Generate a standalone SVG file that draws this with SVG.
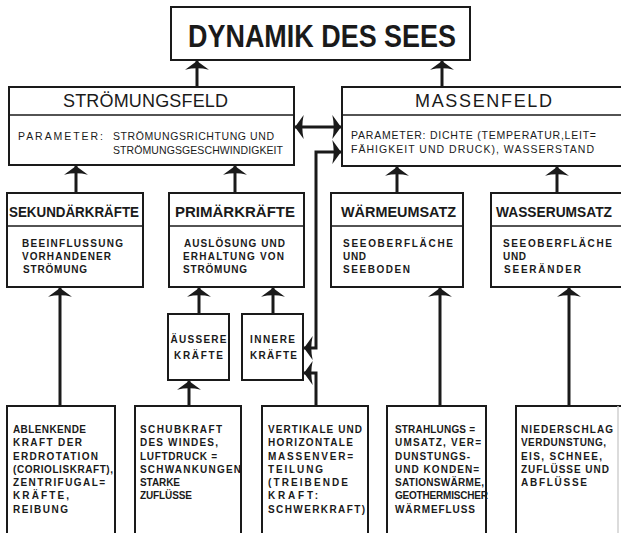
<svg xmlns="http://www.w3.org/2000/svg" width="621" height="533" viewBox="0 0 621 533">
<style>
  .box{fill:#fff;stroke:#1a1a1a;stroke-width:2}
  .div{stroke:#1a1a1a;stroke-width:1.5}
  .con{fill:none;stroke:#1a1a1a;stroke-width:3}
  text{font-family:"Liberation Sans","DejaVu Sans",Arial,sans-serif;fill:#1a1a1a}
  .h0{font-size:31px;font-weight:bold}
  .h1{font-size:18px}
  .h2{font-size:15px;font-weight:bold}
  .p{font-size:10.5px}
  .b{font-size:10px;font-weight:bold}
</style>
<defs>
  <marker id="ah" markerUnits="userSpaceOnUse" markerWidth="20" markerHeight="26" viewBox="-9 -12 10 24" refX="0" refY="0" orient="auto">
    <path d="M0,0 L-8,-11 Q-5.5,0 -8,11 Z" fill="#1a1a1a"/>
  </marker>
  <marker id="ahs" markerUnits="userSpaceOnUse" markerWidth="20" markerHeight="26" viewBox="-9 -12 10 24" refX="0" refY="0" orient="auto-start-reverse">
    <path d="M0,0 L-8,-11 Q-5.5,0 -8,11 Z" fill="#1a1a1a"/>
  </marker>
</defs>
<rect width="621" height="533" fill="#fff"/>

<g id="connectors">
  <line class="con" x1="197" y1="87" x2="197" y2="61" marker-end="url(#ah)"/>
  <line class="con" x1="442" y1="87" x2="442" y2="61" marker-end="url(#ah)"/>
  <line class="con" x1="76" y1="193" x2="76" y2="166" marker-end="url(#ah)"/>
  <line class="con" x1="235" y1="193" x2="235" y2="166" marker-end="url(#ah)"/>
  <line class="con" x1="397" y1="193" x2="397" y2="167" marker-end="url(#ah)"/>
  <line class="con" x1="557" y1="193" x2="557" y2="167" marker-end="url(#ah)"/>
  <line class="con" x1="295" y1="127" x2="341" y2="127" marker-start="url(#ahs)" marker-end="url(#ah)"/>
  <path class="con" d="M304,348 H316 V152 H341" marker-start="url(#ahs)" marker-end="url(#ah)"/>
  <path class="con" d="M316,406 V373 H304" marker-end="url(#ah)"/>
  <line class="con" x1="199" y1="314" x2="199" y2="288" marker-end="url(#ah)"/>
  <line class="con" x1="273" y1="314" x2="273" y2="288" marker-end="url(#ah)"/>
  <line class="con" x1="189" y1="406" x2="189" y2="381" marker-end="url(#ah)"/>
  <line class="con" x1="60" y1="406" x2="60" y2="288" marker-end="url(#ah)"/>
  <line class="con" x1="440" y1="406" x2="440" y2="288" marker-end="url(#ah)"/>
  <line class="con" x1="569" y1="406" x2="569" y2="288" marker-end="url(#ah)"/>
</g>

<g id="dynamik">
  <rect class="box" x="171" y="7" width="299" height="53"/>
  <text class="h0" x="188" y="47" textLength="268" lengthAdjust="spacingAndGlyphs">DYNAMIK DES SEES</text>
</g>

<g id="stroemungsfeld">
  <rect class="box" x="9" y="87" width="285" height="78"/>
  <line class="div" x1="9" y1="115" x2="294" y2="115"/>
  <text class="h1" x="63" y="107" textLength="165">STRÖMUNGSFELD</text>
  <text class="p" x="18" y="140" textLength="85">PARAMETER:</text>
  <text class="p" x="113" y="140" textLength="161">STRÖMUNGSRICHTUNG UND</text>
  <text class="p" x="113" y="154" textLength="170">STRÖMUNGSGESCHWINDIGKEIT</text>
</g>

<g id="massenfeld">
  <path class="box" d="M621,87 H342 V166 H621"/>
  <line class="div" x1="342" y1="115" x2="621" y2="115"/>
  <text class="h1" x="415" y="107" textLength="137">MASSENFELD</text>
  <text class="p" x="351" y="139" textLength="245">PARAMETER: DICHTE (TEMPERATUR,LEIT=</text>
  <text class="p" x="351" y="153" textLength="243">FÄHIGKEIT UND DRUCK), WASSERSTAND</text>
</g>

<g id="sekundaer">
  <rect class="box" x="7" y="193" width="136" height="94"/>
  <line class="div" x1="7" y1="226" x2="143" y2="226"/>
  <text class="h2" x="9" y="217" textLength="130" lengthAdjust="spacingAndGlyphs">SEKUNDÄRKRÄFTE</text>
  <text class="b" x="22" y="247" textLength="101">BEEINFLUSSUNG</text>
  <text class="b" x="22" y="260" textLength="89">VORHANDENER</text>
  <text class="b" x="23" y="273" textLength="64">STRÖMUNG</text>
</g>

<g id="primaer">
  <rect class="box" x="169" y="193" width="135" height="94"/>
  <line class="div" x1="169" y1="226" x2="304" y2="226"/>
  <text class="h2" x="175" y="217" textLength="120" lengthAdjust="spacingAndGlyphs">PRIMÄRKRÄFTE</text>
  <text class="b" x="184" y="247" textLength="101">AUSLÖSUNG UND</text>
  <text class="b" x="183" y="260" textLength="101">ERHALTUNG VON</text>
  <text class="b" x="183" y="273" textLength="64">STRÖMUNG</text>
</g>

<g id="waermeumsatz">
  <rect class="box" x="331" y="193" width="132" height="94"/>
  <line class="div" x1="331" y1="226" x2="463" y2="226"/>
  <text class="h2" x="341" y="217" textLength="115" lengthAdjust="spacingAndGlyphs">WÄRMEUMSATZ</text>
  <text class="b" x="343" y="247" textLength="110">SEEOBERFLÄCHE</text>
  <text class="b" x="343" y="260" textLength="23">UND</text>
  <text class="b" x="343" y="273" textLength="67">SEEBODEN</text>
</g>

<g id="wasserumsatz">
  <path class="box" d="M621,193 H491 V287 H621"/>
  <line class="div" x1="491" y1="226" x2="621" y2="226"/>
  <text class="h2" x="496" y="217" textLength="116" lengthAdjust="spacingAndGlyphs">WASSERUMSATZ</text>
  <text class="b" x="503" y="247" textLength="109">SEEOBERFLÄCHE</text>
  <text class="b" x="503" y="260" textLength="23">UND</text>
  <text class="b" x="504" y="273" textLength="77">SEERÄNDER</text>
</g>

<g id="aeussere">
  <rect class="box" x="168" y="314" width="61" height="66"/>
  <text class="b" x="198.5" y="343" text-anchor="middle" textLength="56">ÄUSSERE</text>
  <text class="b" x="198.5" y="359" text-anchor="middle" textLength="49">KRÄFTE</text>
</g>

<g id="innere">
  <rect class="box" x="242" y="314" width="61" height="66"/>
  <text class="b" x="250" y="343" textLength="45">INNERE</text>
  <text class="b" x="250" y="359" textLength="47">KRÄFTE</text>
</g>

<g id="ablenkende">
  <path class="box" d="M7,540 V406 H115 V540"/>
  <text class="b" x="13" y="433" textLength="73">ABLENKENDE</text>
  <text class="b" x="13" y="446" textLength="69">KRAFT DER</text>
  <text class="b" x="13" y="460" textLength="85">ERDROTATION</text>
  <text class="b" x="13" y="473" textLength="100">(CORIOLISKRAFT),</text>
  <text class="b" x="13" y="486" textLength="92">ZENTRIFUGAL=</text>
  <text class="b" x="13" y="499" textLength="56">KRÄFTE,</text>
  <text class="b" x="13" y="513" textLength="55">REIBUNG</text>
</g>

<g id="schubkraft">
  <path class="box" d="M135,540 V406 H241 V540"/>
  <text class="b" x="140" y="433" textLength="82">SCHUBKRAFT</text>
  <text class="b" x="140" y="446" textLength="78">DES  WINDES,</text>
  <text class="b" x="140" y="460" textLength="77">LUFTDRUCK =</text>
  <text class="b" x="140" y="473" textLength="101">SCHWANKUNGEN</text>
  <text class="b" x="140" y="486" textLength="40">STARKE</text>
  <text class="b" x="140" y="499" textLength="52">ZUFLÜSSE</text>
</g>

<g id="vertikale">
  <path class="box" d="M262,540 V406 H368 V540"/>
  <text class="b" x="268" y="433" textLength="94">VERTIKALE UND</text>
  <text class="b" x="268" y="446" textLength="85">HORIZONTALE</text>
  <text class="b" x="268" y="460" textLength="85">MASSENVER=</text>
  <text class="b" x="268" y="473" textLength="55">TEILUNG</text>
  <text class="b" x="268" y="486" textLength="80">(TREIBENDE</text>
  <text class="b" x="268" y="499" textLength="50">KRAFT:</text>
  <text class="b" x="268" y="513" textLength="97">SCHWERKRAFT)</text>
</g>

<g id="strahlung">
  <path class="box" d="M387,540 V406 H486 V540"/>
  <text class="b" x="395" y="433" textLength="80">STRAHLUNGS =</text>
  <text class="b" x="395" y="446" textLength="86">UMSATZ, VER=</text>
  <text class="b" x="395" y="460" textLength="75">DUNSTUNGS-</text>
  <text class="b" x="395" y="473" textLength="84">UND KONDEN=</text>
  <text class="b" x="395" y="486" textLength="89">SATIONSWÄRME,</text>
  <text class="b" x="395" y="499" textLength="93">GEOTHERMISCHER</text>
  <text class="b" x="395" y="513" textLength="80">WÄRMEFLUSS</text>
</g>

<g id="niederschlag">
  <path class="box" d="M516,540 V406 H621"/>
  <line x1="618" y1="406" x2="618" y2="540" stroke="#d0d0d0" stroke-width="1.5"/>
  <text class="b" x="521" y="433" textLength="92">NIEDERSCHLAG</text>
  <text class="b" x="521" y="446" textLength="85">VERDUNSTUNG,</text>
  <text class="b" x="521" y="460" textLength="81">EIS, SCHNEE,</text>
  <text class="b" x="521" y="473" textLength="88">ZUFLÜSSE UND</text>
  <text class="b" x="521" y="486" textLength="66">ABFLÜSSE</text>
</g>
</svg>
